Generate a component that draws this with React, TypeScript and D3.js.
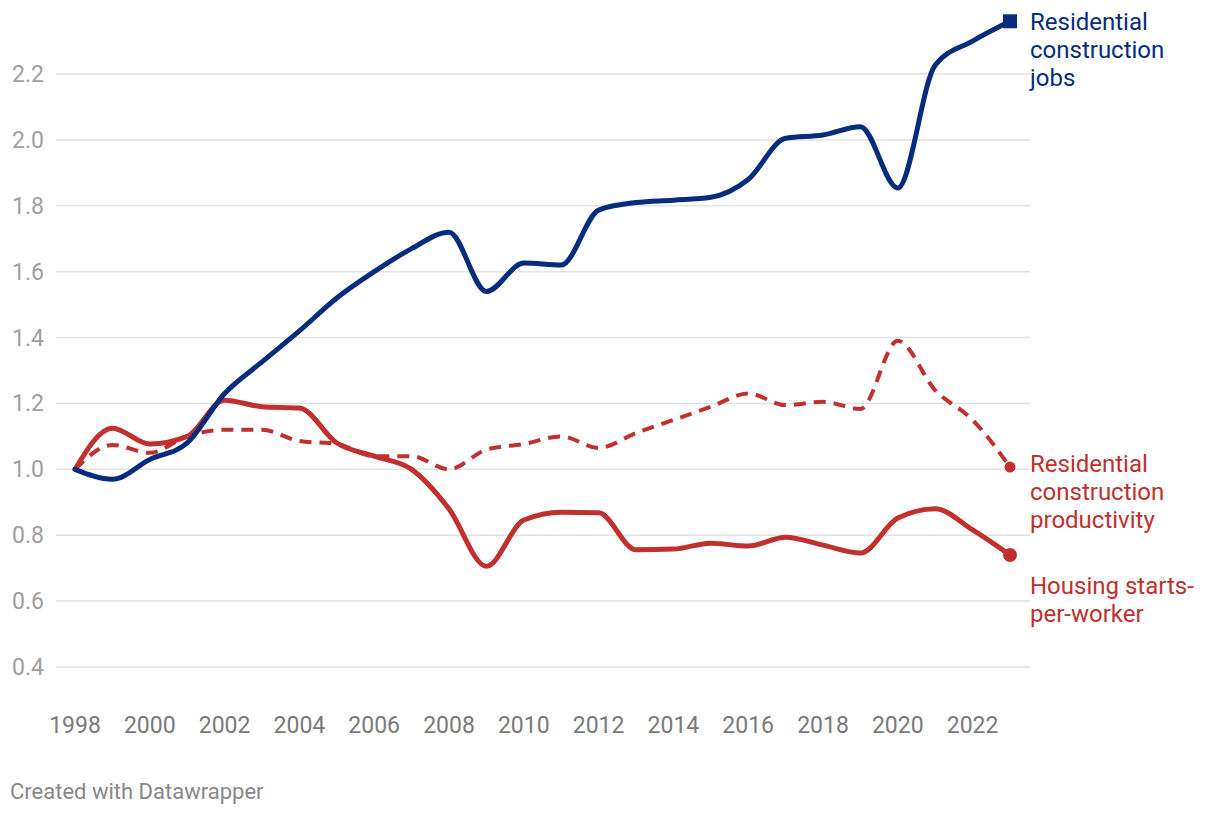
import React from "react";
import * as d3 from "d3";

const years = [1998,1999,2000,2001,2002,2003,2004,2005,2006,2007,2008,2009,2010,2011,2012,2013,2014,2015,2016,2017,2018,2019,2020,2021,2022,2023];
const jobs = [1.0,0.97,1.03,1.08,1.23,1.326,1.42,1.52,1.60,1.67,1.72,1.54,1.626,1.62,1.787,1.81,1.817,1.826,1.88,2.005,2.015,2.04,1.854,2.227,2.30,2.36];
const startsPerWorker = [1.0,1.125,1.077,1.10,1.21,1.19,1.186,1.08,1.04,1.0,0.88,0.706,0.846,0.87,0.868,0.756,0.758,0.776,0.767,0.794,0.77,0.746,0.852,0.88,0.816,0.74];
const productivity = [1.0,1.074,1.05,1.10,1.12,1.12,1.086,1.077,1.04,1.04,1.0,1.06,1.077,1.10,1.065,1.11,1.15,1.19,1.23,1.195,1.205,1.183,1.39,1.24,1.15,1.007];
const yTicks = [0.4,0.6,0.8,1.0,1.2,1.4,1.6,1.8,2.0,2.2];
const xTicks = [1998,2000,2002,2004,2006,2008,2010,2012,2014,2016,2018,2020,2022];

const BLUE = "#062d7d";
const RED = "#c0302f";
const FONT = "Roboto, sans-serif";

export default function App() {
  const x = d3.scaleLinear().domain([1998, 2023]).range([75, 1010]);
  const y = d3.scaleLinear().domain([0.4, 2.2]).range([667, 74]);
  const line = d3.line<number>()
    .x((_, i) => x(years[i]))
    .y((d) => y(d))
    .curve(d3.curveMonotoneX);
  const last = years.length - 1;
  return (
    <svg width={1220} height={816} style={{ position: "absolute", left: 0, top: 0, background: "#fff" }}>
      {yTicks.map((t) => (
        <g key={t}>
          <line x1={56} x2={1030} y1={y(t)} y2={y(t)} stroke="#e2e2e2" strokeWidth={1.5} />
          <text x={44} y={y(t)} dy="0.35em" textAnchor="end" fontFamily={FONT} fontSize={23} fill="#a0a0a0">
            {t.toFixed(1)}
          </text>
        </g>
      ))}
      {xTicks.map((t) => (
        <text key={t} x={x(t)} y={733} textAnchor="middle" fontFamily={FONT} fontSize={23} fill="#7a7a7a">
          {t}
        </text>
      ))}
      <path d={line(productivity) || ""} fill="none" stroke={RED} strokeWidth={4} strokeDasharray="12 8" />
      <path d={line(startsPerWorker) || ""} fill="none" stroke={RED} strokeWidth={5} strokeLinejoin="round" strokeLinecap="round" />
      <path d={line(jobs) || ""} fill="none" stroke={BLUE} strokeWidth={5} strokeLinejoin="round" strokeLinecap="round" />
      <rect x={x(years[last]) - 7} y={y(jobs[last]) - 7} width={14} height={14} fill={BLUE} />
      <circle cx={x(years[last])} cy={y(startsPerWorker[last])} r={7} fill={RED} />
      <circle cx={x(years[last])} cy={y(productivity[last])} r={5.5} fill={RED} />
      <text fontFamily={FONT} fontSize={24} fill={BLUE}>
        <tspan x={1030} y={30}>Residential</tspan>
        <tspan x={1030} y={58}>construction</tspan>
        <tspan x={1030} y={86}>jobs</tspan>
      </text>
      <text fontFamily={FONT} fontSize={24} fill={RED}>
        <tspan x={1030} y={472}>Residential</tspan>
        <tspan x={1030} y={500}>construction</tspan>
        <tspan x={1030} y={528}>productivity</tspan>
      </text>
      <text fontFamily={FONT} fontSize={24} fill={RED}>
        <tspan x={1030} y={594}>Housing starts-</tspan>
        <tspan x={1030} y={622}>per-worker</tspan>
      </text>
      <text x={10} y={799} fontFamily={FONT} fontSize={22} fill="#888">Created with Datawrapper</text>
    </svg>
  );
}
